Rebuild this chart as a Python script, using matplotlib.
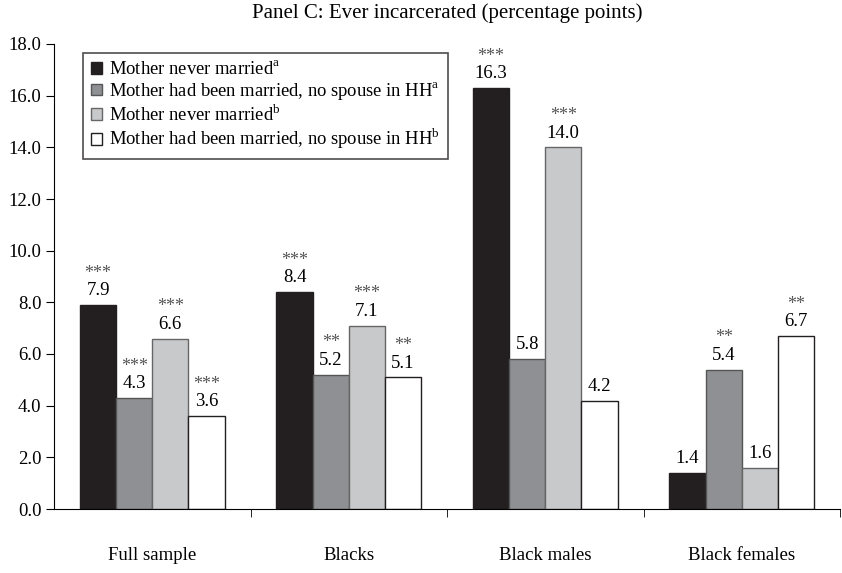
import numpy as np
import matplotlib.pyplot as plt

plt.rcParams['font.family'] = 'Liberation Serif'
plt.rcParams['mathtext.fontset'] = 'custom'
plt.rcParams['mathtext.rm'] = 'Liberation Serif'

groups = ['Full sample', 'Blacks', 'Black males', 'Black females']
series = ['Mother never married$^{\\rm a}$',
          'Mother had been married, no spouse in HH$^{\\rm a}$',
          'Mother never married$^{\\rm b}$',
          'Mother had been married, no spouse in HH$^{\\rm b}$']
values = [[7.9, 8.4, 16.3, 1.4],
          [4.3, 5.2, 5.8, 5.4],
          [6.6, 7.1, 14.0, 1.6],
          [3.6, 5.1, 4.2, 6.7]]
stars = [['***', '***', '***', ''],
         ['***', '**', '', '**'],
         ['***', '***', '***', ''],
         ['***', '**', '', '**']]
colors = ['#231f20', '#8f9094', '#c8c9cb', '#ffffff']
edges = ['#231f20', '#555555', '#666666', '#231f20']

fig = plt.figure(figsize=(8.42, 5.73), dpi=100)
ax = fig.add_axes([54/842, 1-509/573, 786/842, 465/573])

x = np.arange(len(groups))
w = 0.184
for i in range(4):
    pos = x + (i - 1.5) * w
    ax.bar(pos, values[i], w, color=colors[i], edgecolor=edges[i], linewidth=1.0,
           label=series[i])
    for p, v, s in zip(pos, values[i], stars[i]):
        ax.text(p, v + 0.22, '%.1f' % v, ha='center', va='bottom', fontsize=13.5)
        if s:
            ax.text(p, v + 0.9, s, ha='center', va='bottom', fontsize=13, color='#555555')

ax.set_xlim(-0.5, 3.5)
ax.set_ylim(0, 18)
ax.set_yticks(np.arange(0, 18.1, 2))
ax.set_yticklabels(['%.1f' % t for t in np.arange(0, 18.1, 2)], fontsize=13.5)
ax.set_xticks(x)
ax.set_xticklabels(groups, fontsize=13.5)
ax.tick_params(axis='x', length=0, pad=27)
ax.set_xticks(np.arange(0.5, 3.6, 1), minor=True)
ax.tick_params(axis='x', which='minor', length=6, direction='out')
ax.tick_params(axis='y', length=6, direction='out', pad=3)
ax.spines['top'].set_visible(False)
ax.spines['right'].set_visible(False)

ax.set_title('Panel C: Ever incarcerated (percentage points)', fontsize=15, pad=19)

leg = ax.legend(loc='upper left', bbox_to_anchor=(0.037, 0.981), fontsize=13.4,
                frameon=True, fancybox=False, edgecolor='#231f20',
                handlelength=0.6, handleheight=0.6, handletextpad=0.4,
                labelspacing=0.1, borderpad=0.4, borderaxespad=0)
leg.get_frame().set_linewidth(1.2)

plt.savefig('out.png', dpi=100)
